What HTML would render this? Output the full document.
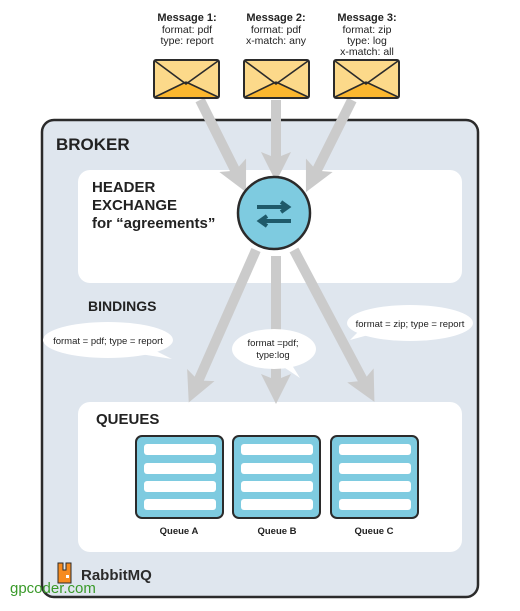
<!DOCTYPE html>
<html><head><meta charset="utf-8"><style>
body{margin:0;width:520px;height:606px;background:#fff;overflow:hidden;font-family:"Liberation Sans",sans-serif}
</style></head><body>
<svg width="520" height="606" viewBox="0 0 520 606" xmlns="http://www.w3.org/2000/svg" font-family="Liberation Sans, sans-serif">
<defs>
<marker id="ah" markerWidth="3" markerHeight="3" refX="1.2" refY="1.5" orient="auto" markerUnits="strokeWidth">
<path d="M0,0 L3,1.5 L0,3 L0.6,1.5 Z" fill="#cbcbcb"/></marker>
</defs>
<rect x="42" y="120" width="436" height="477" rx="12" fill="#dfe6ee" stroke="#2b2b2b" stroke-width="2.5"/>
<text x="56" y="150" font-size="17" font-weight="bold" fill="#222">BROKER</text>
<rect x="78" y="170" width="384" height="113" rx="12" fill="#fff"/>
<text x="92" y="192" font-size="15" font-weight="bold" fill="#222">HEADER</text>
<text x="92" y="210" font-size="15" font-weight="bold" fill="#222">EXCHANGE</text>
<text x="92" y="228" font-size="15" font-weight="bold" fill="#222">for “agreements”</text>
<rect x="78" y="402" width="384" height="150" rx="12" fill="#fff"/>
<text x="96" y="424" font-size="15" font-weight="bold" fill="#222">QUEUES</text>
<text x="88" y="311" font-size="14" font-weight="bold" fill="#222">BINDINGS</text>
<g stroke="#cbcbcb" stroke-width="10" fill="none" marker-end="url(#ah)">
<line x1="200" y1="100" x2="238" y2="176"/>
<line x1="276" y1="100" x2="276" y2="164"/>
<line x1="352" y1="100" x2="314" y2="176"/>
<line x1="256" y1="250" x2="196" y2="386"/>
<line x1="276" y1="256" x2="276" y2="386"/>
<line x1="294" y1="250" x2="366" y2="386"/>
</g>
<circle cx="274" cy="213" r="36" fill="#7ecbe0" stroke="#2b2b2b" stroke-width="2.5"/>
<path d="M257 207 H287 M281 202 L288 207 L281 212" stroke="#1f5a6a" stroke-width="4" fill="none"/>
<path d="M291 221 H261 M267 216 L260 221 L267 226" stroke="#1f5a6a" stroke-width="4" fill="none"/>
<g fill="#fff">
<ellipse cx="108" cy="340" rx="65" ry="18"/><path d="M150 348 L172 359 L140 354 Z"/>
<ellipse cx="274" cy="349" rx="42" ry="20"/><path d="M290 362 L300 378 L282 366 Z"/>
<ellipse cx="410" cy="323" rx="63" ry="18"/><path d="M360 330 L350 340 L372 334 Z"/>
</g>
<g font-size="9.5" fill="#222" text-anchor="middle">
<text x="108" y="344">format = pdf; type = report</text>
<text x="273" y="346">format =pdf;</text><text x="273" y="358">type:log</text>
<text x="410" y="327">format = zip; type = report</text>
</g>
<g font-size="10.5" fill="#222" text-anchor="middle">
<text x="187" y="21" font-weight="bold" font-size="11">Message 1:</text>
<text x="187" y="33">format: pdf</text><text x="187" y="44">type: report</text>
<text x="276" y="21" font-weight="bold" font-size="11">Message 2:</text>
<text x="276" y="33">format: pdf</text><text x="276" y="44">x-match: any</text>
<text x="367" y="21" font-weight="bold" font-size="11">Message 3:</text>
<text x="367" y="33">format: zip</text><text x="367" y="44">type: log</text><text x="367" y="55">x-match: all</text>
</g>
<g>
<g transform="translate(154,60)">
<rect x="0" y="0" width="65" height="38" rx="2" fill="#fcd98a" stroke="#2b2b2b" stroke-width="2"/>
<path d="M1 37 L32 22 L64 37 Z" fill="#fbb72f"/>
<path d="M1 1 L32 24 L64 1 M1 37 L32 22 M64 37 L32 22" stroke="#2b2b2b" stroke-width="1.6" fill="none"/>
</g>
<g transform="translate(244,60)">
<rect x="0" y="0" width="65" height="38" rx="2" fill="#fcd98a" stroke="#2b2b2b" stroke-width="2"/>
<path d="M1 37 L32 22 L64 37 Z" fill="#fbb72f"/>
<path d="M1 1 L32 24 L64 1 M1 37 L32 22 M64 37 L32 22" stroke="#2b2b2b" stroke-width="1.6" fill="none"/>
</g>
<g transform="translate(334,60)">
<rect x="0" y="0" width="65" height="38" rx="2" fill="#fcd98a" stroke="#2b2b2b" stroke-width="2"/>
<path d="M1 37 L32 22 L64 37 Z" fill="#fbb72f"/>
<path d="M1 1 L32 24 L64 1 M1 37 L32 22 M64 37 L32 22" stroke="#2b2b2b" stroke-width="1.6" fill="none"/>
</g>
</g>
<g>
<g transform="translate(136,436)">
<rect width="87" height="82" rx="6" fill="#7ecbe0" stroke="#2b2b2b" stroke-width="2"/>
<rect x="8" y="8" width="72" height="11" rx="3" fill="#fff"/><rect x="8" y="27" width="72" height="11" rx="3" fill="#fff"/>
<rect x="8" y="45" width="72" height="11" rx="3" fill="#fff"/><rect x="8" y="63" width="72" height="11" rx="3" fill="#fff"/>
</g>
<g transform="translate(233,436)">
<rect width="87" height="82" rx="6" fill="#7ecbe0" stroke="#2b2b2b" stroke-width="2"/>
<rect x="8" y="8" width="72" height="11" rx="3" fill="#fff"/><rect x="8" y="27" width="72" height="11" rx="3" fill="#fff"/>
<rect x="8" y="45" width="72" height="11" rx="3" fill="#fff"/><rect x="8" y="63" width="72" height="11" rx="3" fill="#fff"/>
</g>
<g transform="translate(331,436)">
<rect width="87" height="82" rx="6" fill="#7ecbe0" stroke="#2b2b2b" stroke-width="2"/>
<rect x="8" y="8" width="72" height="11" rx="3" fill="#fff"/><rect x="8" y="27" width="72" height="11" rx="3" fill="#fff"/>
<rect x="8" y="45" width="72" height="11" rx="3" fill="#fff"/><rect x="8" y="63" width="72" height="11" rx="3" fill="#fff"/>
</g>
</g>
<g font-size="9.5" font-weight="bold" fill="#222" text-anchor="middle">
<text x="179" y="534">Queue A</text><text x="277" y="534">Queue B</text><text x="374" y="534">Queue C</text>
</g>
<path d="M58 563 h5 v7 h3 v-7 h5 v20 h-13 Z" fill="#f68b1f" stroke="#2b2b2b" stroke-width="1"/>
<rect x="66" y="575" width="3" height="3" fill="#fff"/>
<text x="81" y="580" font-size="15" font-weight="bold" fill="#2b2b2b">RabbitMQ</text>
<text x="10" y="593" font-size="15" fill="#3a9a2a">gpcoder.com</text>
</svg>
</body></html>
